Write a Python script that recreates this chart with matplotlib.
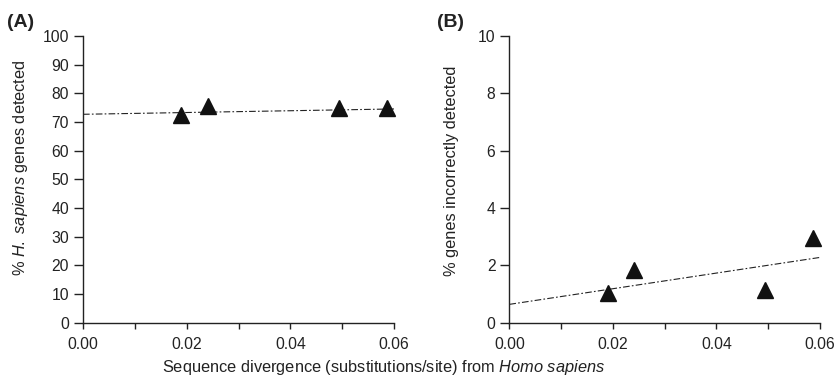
import numpy as np
import matplotlib
matplotlib.use('Agg')
import matplotlib.pyplot as plt

plt.rcParams['font.family'] = ['Liberation Sans', 'DejaVu Sans']
plt.rcParams['mathtext.fontset'] = 'custom'
plt.rcParams['mathtext.rm'] = 'Liberation Sans'
plt.rcParams['mathtext.it'] = 'Liberation Sans:italic'

# divergence from Homo sapiens (substitutions/site)
divergence = [0.0190, 0.0241, 0.0494, 0.0586]
# panel A: % H. sapiens genes detected
detected = [72.5, 75.6, 75.0, 75.0]
# panel B: % genes incorrectly detected
incorrect = [1.03, 1.85, 1.15, 2.95]
# trend lines (intercept, slope) as drawn in the figure
fit_a = (72.7, 31.0)
fit_b = (0.64, 27.3)

xticks = [0.00, 0.01, 0.02, 0.03, 0.04, 0.05, 0.06]
xticklabels = ['0.00', '', '0.02', '', '0.04', '', '0.06']

ink = '#222222'

fig = plt.figure(figsize=(8.35, 3.89), dpi=100)
ax_a = fig.add_axes([0.0994, 0.1704, 0.3725, 0.737])
ax_b = fig.add_axes([0.6100, 0.1704, 0.3721, 0.737])

panels = [
    (ax_a, detected, fit_a, (0, 100), np.arange(0, 101, 10),
     r'% $\it{H.}$ $\it{sapiens}$ genes detected', '(A)', (0.024, 0.57), 0.008),
    (ax_b, incorrect, fit_b, (0, 10), np.arange(0, 11, 2),
     '% genes incorrectly detected', '(B)', (0.541, 0.56), 0.523),
]

xfit = np.array([0.0, 0.06])
for ax, vals, fit, ylim, yticks, ylabel, tag, lab_xy, tag_x in panels:
    ax.plot(xfit, fit[0] + fit[1] * xfit, color=ink, lw=0.8,
            linestyle=(0, (6, 2, 1.5, 2)))
    ax.plot(divergence, vals, linestyle='none', marker='^', markersize=11,
            color='#111111', clip_on=False, zorder=3)
    ax.set_xlim(0, 0.06)
    ax.set_ylim(*ylim)
    ax.set_xticks(xticks)
    ax.set_xticklabels(xticklabels)
    ax.set_yticks(yticks)
    for s in ['top', 'right']:
        ax.spines[s].set_visible(False)
    for s in ['left', 'bottom']:
        ax.spines[s].set_color(ink)
        ax.spines[s].set_linewidth(1.0)
    ax.tick_params(axis='x', direction='out', length=4, width=1.0,
                   colors=ink, labelsize=11.3, pad=6)
    ax.tick_params(axis='y', direction='out', length=6.5, width=1.0,
                   colors=ink, labelsize=11.3, pad=3.5)
    fig.text(lab_xy[0], lab_xy[1], ylabel, rotation=90, ha='center',
             va='center', fontsize=11.8, color=ink)
    fig.text(tag_x, 0.941, tag, fontsize=14, fontweight='bold', color=ink,
             ha='left', va='center')

fig.text(0.459, 0.054, r'Sequence divergence (substitutions/site) from $\it{Homo}$ $\it{sapiens}$',
         ha='center', va='center', fontsize=11.8, color=ink)

fig.savefig('out.png', dpi=100)
